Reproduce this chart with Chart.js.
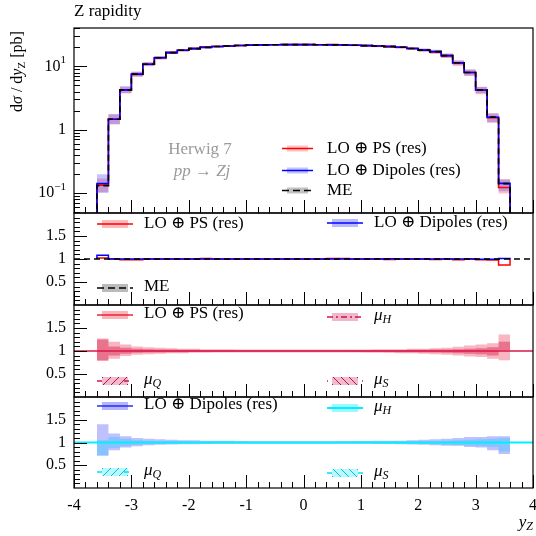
<!DOCTYPE html>
<html>
<head>
<meta charset="utf-8">
<script src="https://cdn.jsdelivr.net/npm/chart.js@4/dist/chart.umd.min.js"></script>
<style>
html, body { margin: 0; padding: 0; background: #fff; }
#wrap { position: relative; width: 536px; height: 536px; }
#wrap canvas { position: absolute; left: 0; top: 0; }
</style>
</head>
<body>
<div id="wrap">
  <canvas id="main" width="536" height="536"></canvas>
  <canvas id="ratioME" width="536" height="536"></canvas>
  <canvas id="ratioPS" width="536" height="536"></canvas>
  <canvas id="ratioDip" width="536" height="536"></canvas>
</div>
<script>
// bin edges of the Z rapidity histogram
const binEdges = [-3.6, -3.4, -3.2, -3.0, -2.8, -2.6, -2.4, -2.2, -2.0, -1.8, -1.6, -1.4, -1.2, -1.0, -0.8, -0.6, -0.4, -0.2,
                  0.0, 0.2, 0.4, 0.6, 0.8, 1.0, 1.2, 1.4, 1.6, 1.8, 2.0, 2.2, 2.4, 2.6, 2.8, 3.0, 3.2, 3.4, 3.6];

// ME cross section per bin [pb]
const meVals = [0.13, 1.46, 4.25, 7.55, 10.8, 13.7, 16.5, 18.0, 19.1, 20.0, 20.6, 21.0, 21.4, 21.7, 21.9, 22.0, 22.1, 22.1,
                22.1, 22.0, 21.9, 21.8, 21.6, 21.3, 21.0, 20.6, 20.1, 19.2, 18.1, 17.1, 14.8, 11.4, 8.0, 4.25, 1.58, 0.14];

// ratios to ME
const psRatio = [1.02, 1.0, 0.985, 0.985, 1.0, 1.0, 1.0, 1.0, 1.0, 1.01, 1.0, 1.0, 1.0, 1.0, 1.0, 1.0, 1.0, 1.0,
                 1.0, 1.0, 1.01, 1.01, 1.0, 1.0, 1.0, 0.99, 1.0, 1.0, 1.0, 0.99, 1.0, 0.985, 1.0, 0.985, 0.98, 0.87];
const dipRatio = [1.08, 1.0, 1.0, 1.0, 1.0, 1.0, 1.0, 1.0, 1.0, 1.0, 1.0, 1.0, 1.0, 1.0, 1.0, 1.0, 1.0, 1.0,
                  1.0, 1.0, 1.0, 1.0, 1.0, 1.0, 1.0, 1.005, 1.0, 1.0, 1.0, 1.0, 1.0, 1.0, 1.0, 0.995, 0.995, 1.01];

// LO+PS scale variation envelopes (relative)
const psHi = [1.27, 1.20, 1.14, 1.10, 1.08, 1.07, 1.06, 1.05, 1.05, 1.04, 1.04, 1.04, 1.035, 1.03, 1.03, 1.03, 1.03, 1.03,
              1.03, 1.03, 1.03, 1.03, 1.035, 1.035, 1.04, 1.04, 1.04, 1.05, 1.05, 1.06, 1.07, 1.09, 1.12, 1.14, 1.17, 1.36];
const psLo = [0.78, 0.83, 0.89, 0.92, 0.93, 0.94, 0.95, 0.95, 0.96, 0.96, 0.965, 0.965, 0.97, 0.97, 0.97, 0.97, 0.97, 0.97,
              0.97, 0.97, 0.97, 0.965, 0.965, 0.96, 0.96, 0.955, 0.95, 0.95, 0.94, 0.93, 0.92, 0.90, 0.88, 0.87, 0.83, 0.80];
const psInHi = [1.25, 1.10, 1.07, 1.05, 1.04, 1.035, 1.03, 1.025, 1.025, 1.02, 1.02, 1.02, 1.02, 1.015, 1.015, 1.015, 1.015, 1.015,
                1.015, 1.015, 1.015, 1.015, 1.02, 1.02, 1.02, 1.02, 1.02, 1.025, 1.025, 1.03, 1.035, 1.04, 1.05, 1.06, 1.08, 1.20];
const psInLo = [0.80, 0.90, 0.94, 0.96, 0.965, 0.97, 0.975, 0.975, 0.98, 0.98, 0.98, 0.98, 0.985, 0.985, 0.985, 0.985, 0.985, 0.985,
                0.985, 0.985, 0.985, 0.985, 0.98, 0.98, 0.98, 0.98, 0.975, 0.975, 0.97, 0.965, 0.96, 0.95, 0.94, 0.93, 0.90, 1.02];

// LO+Dipoles scale variation envelopes (relative)
const dipHi = [1.40, 1.20, 1.14, 1.10, 1.08, 1.07, 1.06, 1.05, 1.05, 1.04, 1.04, 1.04, 1.035, 1.03, 1.03, 1.03, 1.03, 1.03,
               1.03, 1.03, 1.03, 1.035, 1.035, 1.035, 1.04, 1.04, 1.04, 1.05, 1.06, 1.07, 1.08, 1.10, 1.12, 1.12, 1.14, 1.14];
const dipLo = [0.71, 0.83, 0.89, 0.92, 0.94, 0.95, 0.955, 0.96, 0.96, 0.965, 0.97, 0.97, 0.97, 0.97, 0.975, 0.975, 0.975, 0.975,
               0.975, 0.975, 0.97, 0.97, 0.97, 0.97, 0.965, 0.965, 0.96, 0.955, 0.95, 0.94, 0.93, 0.93, 0.90, 0.89, 0.83, 0.75];
const dipInHi = [1.05, 1.12, 1.08, 1.05, 1.04, 1.03, 1.03, 1.025, 1.02, 1.02, 1.02, 1.02, 1.015, 1.015, 1.015, 1.015, 1.015, 1.015,
                 1.015, 1.015, 1.015, 1.015, 1.02, 1.02, 1.02, 1.02, 1.02, 1.025, 1.03, 1.03, 1.04, 1.05, 1.06, 1.07, 1.08, 1.10];
const dipInLo = [0.72, 0.88, 0.92, 0.95, 0.96, 0.97, 0.975, 0.975, 0.98, 0.98, 0.98, 0.98, 0.985, 0.985, 0.985, 0.985, 0.985, 0.985,
                 0.985, 0.985, 0.985, 0.985, 0.98, 0.98, 0.98, 0.98, 0.975, 0.97, 0.965, 0.96, 0.95, 0.94, 0.93, 0.92, 0.90, 0.80];

const xTickLabels = ['-4', '-3', '-2', '-1', '0', '1', '2', '3', '4'];
const ratioTickLabels = ['0.5', '1', '1.5'];

const FONT = '"Liberation Serif", "DejaVu Serif", serif';
const LEFT = 74, RIGHT = 533;

// helpers to build step histograms
function stepPoints(values, base) {
    const pts = [];
    const last = binEdges[binEdges.length - 1];
    if (base !== undefined) pts.push({ x: binEdges[0], y: base });
    values.forEach((v, i) => pts.push({ x: binEdges[i], y: v }));
    pts.push({ x: last, y: values[values.length - 1] });
    if (base !== undefined) pts.push({ x: last, y: base });
    return pts;
}
function scaled(values, rel) {
    return values.map((v, i) => v * rel[i]);
}
// 'before' in Chart.js = horizontal first, then vertical at the next point
function stepLine(data, color, width, dash) {
    return { data, borderColor: color, borderWidth: width, borderDash: dash || [], stepped: 'before',
             pointRadius: 0, fill: false, backgroundColor: 'transparent' };
}
function bandPair(hi, lo, color) {
    return [
        { data: stepPoints(hi), borderWidth: 0, borderColor: 'transparent', stepped: 'before', pointRadius: 0,
          fill: '+1', backgroundColor: color },
        { data: stepPoints(lo), borderWidth: 0, borderColor: 'transparent', stepped: 'before', pointRadius: 0,
          fill: false }
    ];
}
const unitLine = (color, width, dash) => ({
    data: [{ x: -4, y: 1 }, { x: 4, y: 1 }], borderColor: color, borderWidth: width, borderDash: dash || [],
    pointRadius: 0, fill: false
});

// --- drawing helpers for the rivet style frame ---
function seg(ctx, x1, y1, x2, y2) {
    ctx.beginPath(); ctx.moveTo(x1, y1); ctx.lineTo(x2, y2); ctx.stroke();
}
function drawFrame(chart) {
    const ctx = chart.ctx, a = chart.chartArea;
    ctx.save();
    ctx.strokeStyle = '#000'; ctx.lineWidth = 1.2;
    ctx.strokeRect(a.left, a.top, a.right - a.left, a.bottom - a.top);
    // x ticks along the bottom, pointing inwards
    const xs = chart.scales.x;
    ctx.lineWidth = 1;
    for (let i = 0; i <= 40; i++) {
        const px = Math.round(xs.getPixelForValue(-4 + i * 0.2)) + 0.5;
        seg(ctx, px, a.bottom, px, a.bottom - (i % 5 === 0 ? 13 : 6));
    }
    ctx.restore();
}
function drawYTicks(chart, majors, minors) {
    const ctx = chart.ctx, a = chart.chartArea, ys = chart.scales.y;
    ctx.save();
    ctx.strokeStyle = '#000'; ctx.lineWidth = 1;
    majors.forEach(v => { const py = Math.round(ys.getPixelForValue(v)) + 0.5; seg(ctx, a.left, py, a.left + 13, py); });
    minors.forEach(v => { const py = Math.round(ys.getPixelForValue(v)) + 0.5; seg(ctx, a.left, py, a.left + 6, py); });
    ctx.restore();
}
// rich text: parts = [{t, size, dy, italic}]
function richText(ctx, parts, x, y, align, color) {
    ctx.save();
    ctx.textBaseline = 'middle';
    ctx.fillStyle = color || '#000';
    let w = 0;
    parts.forEach(p => { ctx.font = (p.italic ? 'italic ' : '') + p.size + 'px ' + FONT; w += ctx.measureText(p.t).width; });
    let cx = align === 'right' ? x - w : align === 'center' ? x - w / 2 : x;
    parts.forEach(p => {
        ctx.font = (p.italic ? 'italic ' : '') + p.size + 'px ' + FONT;
        ctx.textAlign = 'left';
        ctx.fillText(p.t, cx, y + (p.dy || 0));
        cx += ctx.measureText(p.t).width;
    });
    ctx.restore();
}
function ratioYAxis(chart) {
    const ys = chart.scales.y;
    const minors = [];
    for (let i = 1; i < 20; i++) if (i % 5 !== 0) minors.push(i / 10);
    drawYTicks(chart, [0.5, 1, 1.5], minors);
    [0.5, 1, 1.5].forEach((v, i) => richText(chart.ctx, [{ t: ratioTickLabels[i], size: 16 }], 66, ys.getPixelForValue(v), 'right'));
}
// legend symbol
function legendSymbol(ctx, x0, x1, y, s) {
    ctx.save();
    if (s.band) {
        ctx.fillStyle = s.band;
        ctx.fillRect(x0 + 5, y - (s.bh || 4), x1 - x0 - 10, 2 * (s.bh || 4));
    }
    if (s.hatch) {
        ctx.save();
        ctx.beginPath(); ctx.rect(x0 + 5, y - 4, x1 - x0 - 10, 8); ctx.clip();
        ctx.strokeStyle = s.hatchColor; ctx.lineWidth = 1;
        for (let hx = x0 + 2; hx < x1 + 8; hx += 8) {
            if (s.hatch === '/') seg(ctx, hx - 4, y + 4, hx + 4, y - 4);
            else seg(ctx, hx - 4, y - 4, hx + 4, y + 4);
        }
        ctx.restore();
    }
    if (s.line) {
        ctx.strokeStyle = s.line; ctx.lineWidth = s.lw || 1.5;
        ctx.setLineDash(s.dash || []);
        seg(ctx, x0, y, x1, y);
    }
    ctx.restore();
}

function baseOptions(top, bottom, yOpts) {
    return {
        responsive: false, animation: false, events: [],
        layout: { padding: { left: LEFT, right: 536 - RIGHT, top: top, bottom: 536 - bottom } },
        scales: {
            x: { type: 'linear', min: -4, max: 4, display: false },
            y: Object.assign({ display: false }, yOpts)
        },
        plugins: { legend: { display: false }, tooltip: { enabled: false }, title: { display: false } },
        elements: { line: { tension: 0 }, point: { radius: 0 } }
    };
}

// ---------------- main panel ----------------
const psVals = scaled(meVals, psRatio);
const dipVals = scaled(meVals, dipRatio);
const LOGMIN = 0.048, LOGMAX = 40.5;

new Chart(document.getElementById('main'), {
    type: 'line',
    data: {
        datasets: [
            stepLine(stepPoints(meVals, 1e-3), '#000', 1.6, [6, 4]),
            stepLine(stepPoints(dipVals, 1e-3), '#0000ff', 1.6),
            stepLine(stepPoints(psVals, 1e-3), '#ff0000', 1.6),
            ...bandPair(scaled(dipVals, dipHi), scaled(dipVals, dipLo), 'rgba(60,60,255,0.3)'),
            ...bandPair(scaled(psVals, psHi), scaled(psVals, psLo), 'rgba(255,40,60,0.3)')
        ]
    },
    options: baseOptions(28, 213, { type: 'logarithmic', min: LOGMIN, max: LOGMAX }),
    plugins: [{
        id: 'mainDeco',
        afterDraw(chart) {
            const ctx = chart.ctx, ys = chart.scales.y;
            drawFrame(chart);
            const minors = [];
            [0.01, 0.1, 1, 10].forEach(d => { for (let m = 2; m <= 9; m++) { const v = m * d; if (v > LOGMIN && v < LOGMAX) minors.push(v); } });
            drawYTicks(chart, [0.1, 1, 10], minors);
            richText(ctx, [{ t: '10', size: 16 }, { t: '1', size: 11, dy: -6 }], 66, ys.getPixelForValue(10), 'right');
            richText(ctx, [{ t: '1', size: 16 }], 66, ys.getPixelForValue(1), 'right');
            richText(ctx, [{ t: '10', size: 16 }, { t: '\u22121', size: 11, dy: -6 }], 66, ys.getPixelForValue(0.1), 'right');
            // title
            richText(ctx, [{ t: 'Z rapidity', size: 17 }], 74, 12, 'left');
            // y axis title, rotated
            ctx.save();
            ctx.translate(18, 112);
            ctx.rotate(-Math.PI / 2);
            richText(ctx, [{ t: 'd', size: 16 }, { t: '\u03c3', size: 16, italic: true }, { t: ' / d', size: 16 },
                           { t: 'y', size: 16, italic: true }, { t: 'Z', size: 11, dy: 4 }, { t: ' [pb]', size: 16 }], 0, 0, 'left');
            ctx.restore();
            // generator label
            richText(ctx, [{ t: 'Herwig 7', size: 17 }], 200, 150, 'center', '#9a9a9a');
            richText(ctx, [{ t: 'pp \u2192 Zj', size: 17, italic: true }], 202, 172, 'center', '#9a9a9a');
            // legend
            legendSymbol(ctx, 282, 313, 148.5, { band: 'rgba(255,80,90,0.35)', bh: 3, line: '#ff0000' });
            legendSymbol(ctx, 282, 313, 170.5, { band: 'rgba(80,80,255,0.35)', bh: 3, line: '#0000ff' });
            legendSymbol(ctx, 282, 313, 190.5, { band: 'rgba(120,120,120,0.45)', bh: 3, line: '#000', dash: [7, 4] });
            richText(ctx, [{ t: 'LO \u2295 PS (res)', size: 17 }], 327, 148.5, 'left');
            richText(ctx, [{ t: 'LO \u2295 Dipoles (res)', size: 17 }], 327, 170.5, 'left');
            richText(ctx, [{ t: 'ME', size: 17 }], 327, 190.5, 'left');
        }
    }]
});

// ---------------- ratio to ME ----------------
const psRatioPts = stepPoints(psRatio, 1);
const dipRatioPts = stepPoints(dipRatio, 1);
new Chart(document.getElementById('ratioME'), {
    type: 'line',
    data: {
        datasets: [
            unitLine('#000', 1.5, [6, 4]),
            stepLine(dipRatioPts, '#0000ff', 1.5),
            stepLine(psRatioPts, '#ff0000', 1.5)
        ]
    },
    options: baseOptions(213, 305, { type: 'linear', min: 0, max: 2 }),
    plugins: [{
        id: 'meDeco',
        afterDraw(chart) {
            const ctx = chart.ctx;
            drawFrame(chart);
            ratioYAxis(chart);
            legendSymbol(ctx, 97, 133, 224, { band: 'rgba(255,80,90,0.4)', line: '#ff0000' });
            richText(ctx, [{ t: 'LO \u2295 PS (res)', size: 17 }], 144, 224, 'left');
            legendSymbol(ctx, 327, 363, 223, { band: 'rgba(80,80,255,0.4)', line: '#0000ff' });
            richText(ctx, [{ t: 'LO \u2295 Dipoles (res)', size: 17 }], 374, 223, 'left');
            legendSymbol(ctx, 97, 133, 288, { band: 'rgba(120,120,120,0.5)', line: '#000', dash: [7, 4] });
            richText(ctx, [{ t: 'ME', size: 17 }], 144, 287, 'left');
        }
    }]
});

// ---------------- LO+PS scale variations ----------------
new Chart(document.getElementById('ratioPS'), {
    type: 'line',
    data: {
        datasets: [
            unitLine('#dc1446', 1.6),
            ...bandPair(psInHi, psInLo, 'rgba(215,30,80,0.45)'),
            ...bandPair(psHi, psLo, 'rgba(240,110,130,0.5)')
        ]
    },
    options: baseOptions(305, 397, { type: 'linear', min: 0, max: 2 }),
    plugins: [{
        id: 'psDeco',
        afterDraw(chart) {
            const ctx = chart.ctx;
            drawFrame(chart);
            ratioYAxis(chart);
            legendSymbol(ctx, 97, 133, 315, { band: 'rgba(245,120,130,0.55)', line: '#ee2233' });
            richText(ctx, [{ t: 'LO \u2295 PS (res)', size: 17 }], 144, 314, 'left');
            legendSymbol(ctx, 327, 363, 317, { band: 'rgba(225,110,150,0.5)', line: '#cc1450', dash: [6, 3, 2, 3] });
            richText(ctx, [{ t: '\u03bc', size: 17, italic: true }, { t: 'H', size: 12, italic: true, dy: 4 }], 374, 316, 'left');
            legendSymbol(ctx, 97, 133, 381, { band: 'rgba(225,120,160,0.5)', hatch: '/', hatchColor: '#c01048', line: '#cc1450', dash: [5, 22] });
            richText(ctx, [{ t: '\u03bc', size: 17, italic: true }, { t: 'Q', size: 12, italic: true, dy: 4 }], 144, 380, 'left');
            legendSymbol(ctx, 327, 363, 381, { band: 'rgba(225,120,160,0.5)', hatch: '\\', hatchColor: '#c01048', line: '#cc1450', dash: [1, 34] });
            richText(ctx, [{ t: '\u03bc', size: 17, italic: true }, { t: 'S', size: 12, italic: true, dy: 4 }], 374, 380, 'left');
        }
    }]
});

// ---------------- LO+Dipoles scale variations ----------------
new Chart(document.getElementById('ratioDip'), {
    type: 'line',
    data: {
        datasets: [
            unitLine('#00f0ff', 2.2),
            ...bandPair(dipInHi, dipInLo, 'rgba(80,200,255,0.5)'),
            ...bandPair(dipHi, dipLo, 'rgba(130,130,255,0.5)')
        ]
    },
    options: baseOptions(397, 488, { type: 'linear', min: 0, max: 2 }),
    plugins: [{
        id: 'dipDeco',
        afterDraw(chart) {
            const ctx = chart.ctx, xs = chart.scales.x;
            drawFrame(chart);
            ratioYAxis(chart);
            legendSymbol(ctx, 97, 133, 406, { band: 'rgba(120,120,255,0.55)', line: '#2a2aff' });
            richText(ctx, [{ t: 'LO \u2295 Dipoles (res)', size: 17 }], 144, 405, 'left');
            legendSymbol(ctx, 327, 363, 408, { band: 'rgba(80,240,255,0.55)', line: '#00f0ff', lw: 2 });
            richText(ctx, [{ t: '\u03bc', size: 17, italic: true }, { t: 'H', size: 12, italic: true, dy: 4 }], 374, 407, 'left');
            legendSymbol(ctx, 97, 133, 472, { band: 'rgba(120,240,255,0.5)', hatch: '/', hatchColor: '#00c8e0', line: '#00e0ff', dash: [5, 22] });
            richText(ctx, [{ t: '\u03bc', size: 17, italic: true }, { t: 'Q', size: 12, italic: true, dy: 4 }], 144, 471, 'left');
            legendSymbol(ctx, 327, 363, 473, { band: 'rgba(120,240,255,0.5)', hatch: '\\', hatchColor: '#00c8e0', line: '#00e0ff', dash: [5, 26] });
            richText(ctx, [{ t: '\u03bc', size: 17, italic: true }, { t: 'S', size: 12, italic: true, dy: 4 }], 374, 472, 'left');
            // x tick labels and axis title
            xTickLabels.forEach((t, i) => richText(ctx, [{ t: t, size: 16 }], xs.getPixelForValue(-4 + i), 506, 'center'));
            richText(ctx, [{ t: 'y', size: 17, italic: true }, { t: 'Z', size: 12, italic: true, dy: 4 }], 533, 523, 'right');
        }
    }]
});
</script>
</body>
</html>
